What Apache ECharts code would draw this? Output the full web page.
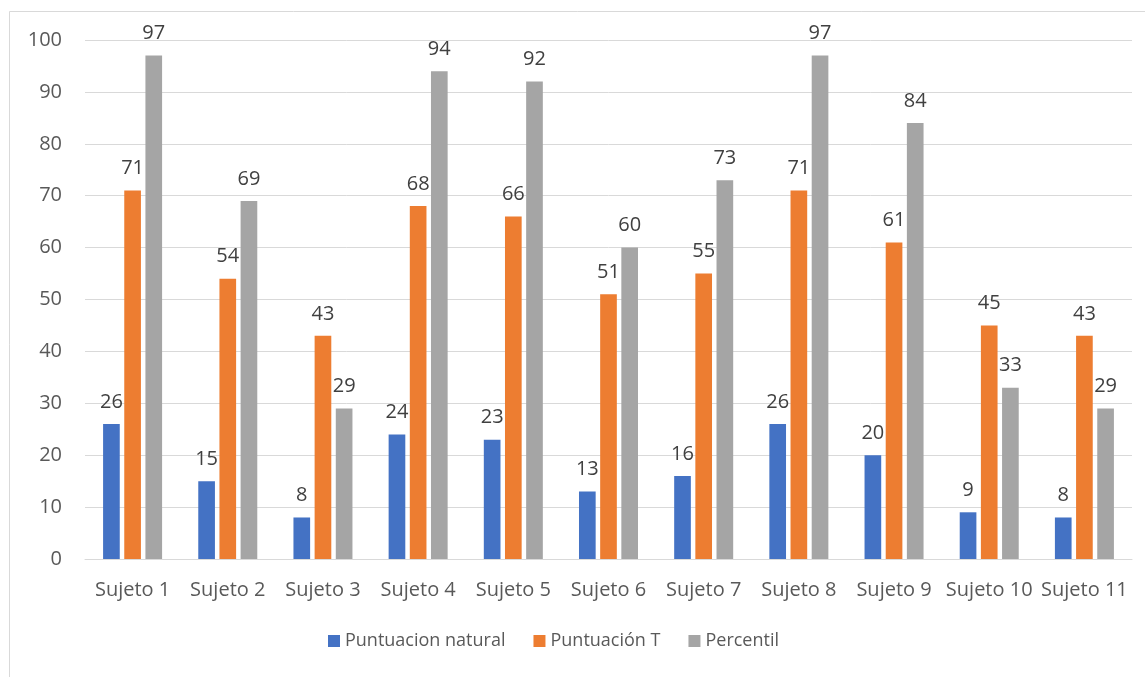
<!DOCTYPE html>
<html>
<head>
<meta charset="utf-8">
<script src="https://cdn.jsdelivr.net/npm/echarts@6/dist/echarts.min.js"></script>
<style>
  html, body { margin: 0; padding: 0; background: #fff; }
  #chart { width: 1145px; height: 677px; }
</style>
</head>
<body>
<div id="chart"></div>
<script>
const categories = ['Sujeto 1', 'Sujeto 2', 'Sujeto 3', 'Sujeto 4', 'Sujeto 5', 'Sujeto 6', 'Sujeto 7', 'Sujeto 8', 'Sujeto 9', 'Sujeto 10', 'Sujeto 11'];
const puntuacionNatural = [26, 15, 8, 24, 23, 13, 16, 26, 20, 9, 8];
const puntuacionT = [71, 54, 43, 68, 66, 51, 55, 71, 61, 45, 43];
const percentil = [97, 69, 29, 94, 92, 60, 73, 97, 84, 33, 29];
const yTicks = [0, 10, 20, 30, 40, 50, 60, 70, 80, 90, 100];

const FONT = '"Open Sans", "Liberation Sans", sans-serif';
const TEXT = '#595959';

function barSeries(name, data, color) {
  return {
    name: name,
    type: 'bar',
    data: data,
    barGap: '27%',
    barCategoryGap: '38%',
    itemStyle: { color: color },
    label: {
      show: true,
      position: 'top',
      distance: 12,
      color: '#404040',
      fontFamily: FONT,
      fontSize: 20
    }
  };
}

const chart = echarts.init(document.getElementById('chart'));
chart.setOption({
  animation: false,
  backgroundColor: '#fff',
  graphic: [{
    type: 'rect',
    shape: { x: 9.5, y: 11.5, width: 1300, height: 1000 },
    style: { fill: 'none', stroke: '#d9d9d9', lineWidth: 1 },
    silent: true
  }],
  grid: { left: 85, right: 13, top: 40, bottom: 118 },
  legend: {
    bottom: 22,
    left: 323,
    itemWidth: 12,
    itemHeight: 12,
    itemGap: 28,
    icon: 'rect',
    textStyle: { color: TEXT, fontFamily: FONT, fontSize: 18 }
  },
  xAxis: {
    type: 'category',
    data: categories,
    axisTick: { show: false },
    axisLine: { lineStyle: { color: '#d9d9d9', width: 1 } },
    axisLabel: { color: TEXT, fontFamily: FONT, fontSize: 20, margin: 21, interval: 0 }
  },
  yAxis: {
    type: 'value',
    min: yTicks[0],
    max: yTicks[yTicks.length - 1],
    interval: 10,
    axisLine: { show: false },
    axisTick: { show: false },
    splitLine: { lineStyle: { color: '#d9d9d9', width: 1 } },
    axisLabel: { color: TEXT, fontFamily: FONT, fontSize: 20, margin: 23 }
  },
  series: [
    barSeries('Puntuacion natural', puntuacionNatural, '#4472C4'),
    barSeries('Puntuación T', puntuacionT, '#ED7D31'),
    barSeries('Percentil', percentil, '#A5A5A5')
  ]
});
</script>
</body>
</html>
